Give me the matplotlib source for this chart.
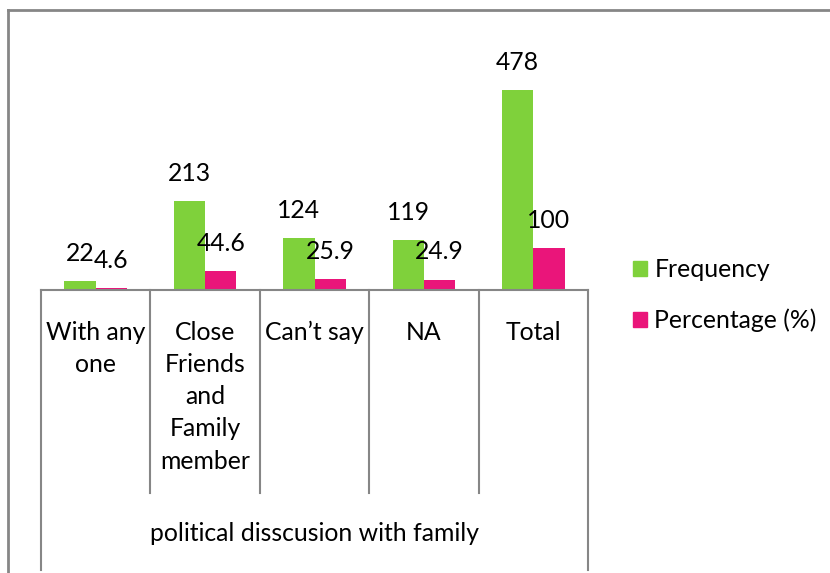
import matplotlib.pyplot as plt
from matplotlib.lines import Line2D
from matplotlib.patches import Patch

plt.rcParams['font.family'] = ['Lato', 'DejaVu Sans']

# Survey counts and shares
categories = [["With any", "one"],
              ["Close", "Friends", "and", "Family", "member"],
              ["Can\u2019t say"],
              ["NA"],
              ["Total"]]
frequency = [22, 213, 124, 119, 478]
percentage = [4.6, 44.6, 25.9, 24.9, 100]
group_title = "political disscusion with family"

green = '#7FD13B'
pink = '#EA157A'
grey = '#868686'
fs = 17.8

W, H = 830, 573
fig = plt.figure(figsize=(W / 100, H / 100), dpi=100)

# plot area in pixels: x 41..588, y 39..290 (from top)
x0, x1, ytop, ybase = 41, 588, 39, 290
ax = fig.add_axes([x0 / W, 1 - ybase / H, (x1 - x0) / W, (ybase - ytop) / H])
ax.set_xlim(-0.5, 4.5)
ax.set_ylim(0, 600)

bw = 0.286
xs = range(len(frequency))
ax.bar([x - bw / 2 for x in xs], frequency, bw, color=green, label='Frequency')
ax.bar([x + bw / 2 for x in xs], percentage, bw, color=pink, label='Percentage (%)')

for x, f, p in zip(xs, frequency, percentage):
    ax.annotate(str(f), (x - bw / 2, f), xytext=(0, 20), textcoords='offset points',
                ha='center', va='center', fontsize=fs)
    ax.annotate(str(p), (x + bw / 2, p), xytext=(0, 20), textcoords='offset points',
                ha='center', va='center', fontsize=fs)

for s in ['top', 'right', 'left']:
    ax.spines[s].set_visible(False)
ax.spines['bottom'].set_color(grey)
ax.spines['bottom'].set_linewidth(1.5)
ax.set_xticks([])
ax.set_yticks([])

ah = ybase - ytop


def below(py):
    # pixel row from top -> axes fraction
    return (ybase - py) / ah


tr = ax.get_xaxis_transform()
for b in [0.5, 1.5, 2.5, 3.5]:
    ax.plot([b, b], [0, below(493)], color=grey, lw=1.5, transform=tr, clip_on=False)
for b in [-0.5, 4.5]:
    ax.plot([b, b], [0, below(570)], color=grey, lw=1.5, transform=tr, clip_on=False)

for x, lines in zip(xs, categories):
    for i, line in enumerate(lines):
        ax.text(x, below(332 + 32.3 * i), line, transform=tr, ha='center', va='center',
                fontsize=fs)
ax.text(2, below(533), group_title, transform=tr, ha='center', va='center', fontsize=fs)

handles = [Patch(color=green), Patch(color=pink)]
fig.legend(handles, ['Frequency', 'Percentage (%)'], loc='center left',
           bbox_to_anchor=(611 / W, 1 - 295 / H), frameon=False, fontsize=fs,
           handlelength=0.55, handleheight=0.55, handletextpad=0.3, labelspacing=1.1)

# chart area border
fig.add_artist(Line2D([8 / W, 8 / W], [0, 1 - 10 / H], color=grey, lw=2))
fig.add_artist(Line2D([8 / W, 1], [1 - 10 / H, 1 - 10 / H], color=grey, lw=2))

fig.savefig('out.png', dpi=100)
